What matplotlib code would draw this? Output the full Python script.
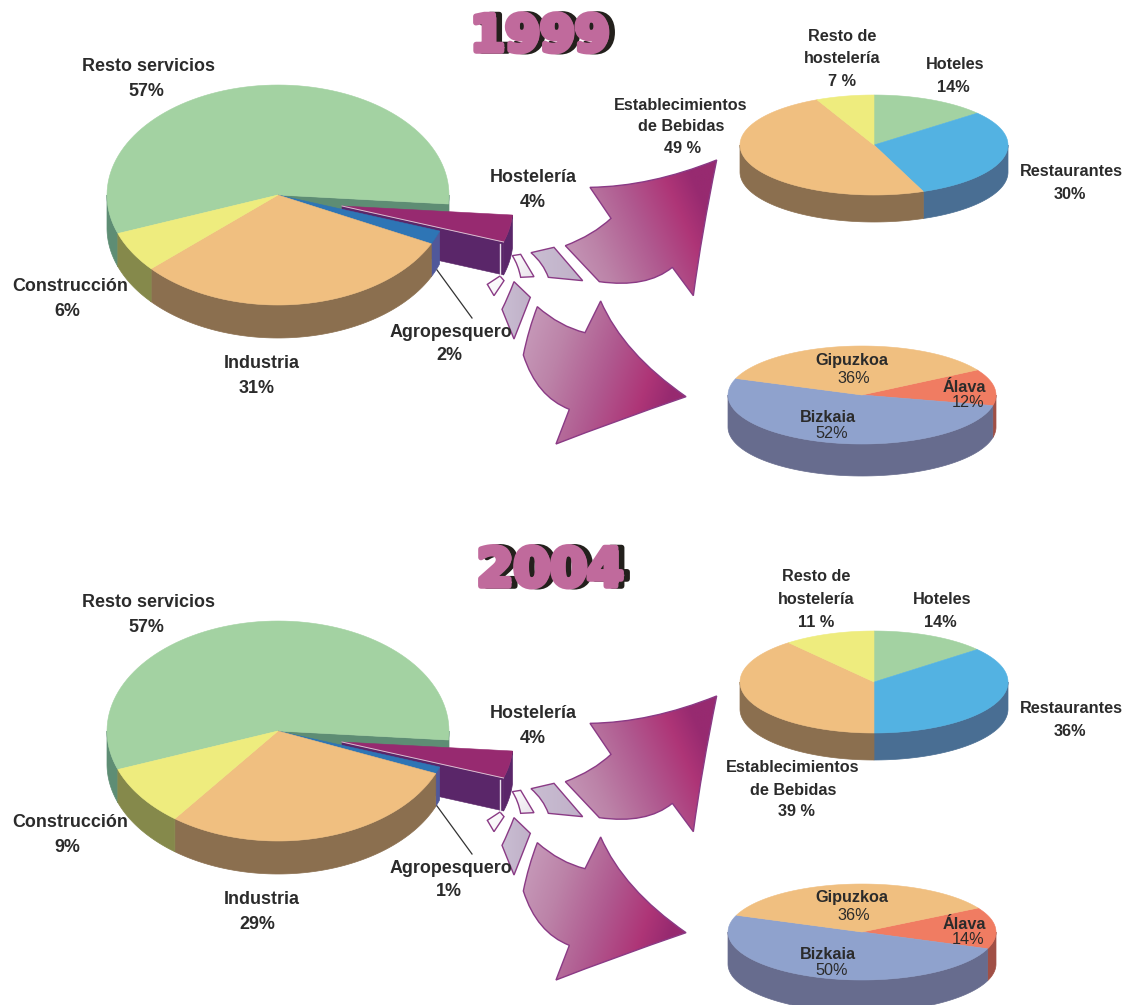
import numpy as np
import matplotlib
matplotlib.use("Agg")
import matplotlib.pyplot as plt
from matplotlib.patches import Polygon, PathPatch
from matplotlib.path import Path
import matplotlib.patheffects as pe

# ---- data (percent) ----
sector_names = ["Resto servicios", "Hostelería", "Agropesquero", "Industria", "Construcción"]
sector_1999 = [57, 4, 2, 31, 6]
sector_2004 = [57, 4, 1, 29, 9]
host_names = ["Hoteles", "Restaurantes", "Establecimientos de Bebidas", "Resto de hostelería"]
host_1999 = [14, 30, 49, 7]
host_2004 = [14, 36, 39, 11]
terr_names = ["Álava", "Bizkaia", "Gipuzkoa"]
terr_1999 = [12, 52, 36]
terr_2004 = [14, 50, 36]
years = ["1999", "2004"]

# ---- colours ----
GREEN, GREEN_W = "#A3D2A2", "#5E8D74"
YEL, YEL_W = "#EEEC7E", "#85894B"
ORG, ORG_W = "#F0BF80", "#8B6F4F"
BLUE, BLUE_W = "#2E75B5", "#50589A"
HOST, HOST_W = "#972A70", "#5A2669"
SKY, SKY_W = "#53B2E2", "#496E93"
PERI, PERI_W = "#8FA2CD", "#676C8E"
SAL, SAL_W = "#F07C62", "#A04F45"
INK = "#2B2B2B"
FONT = "Liberation Sans"

fig = plt.figure(figsize=(11.25, 10.05), dpi=100)
ax = fig.add_axes([0, 0, 1, 1])
ax.set_xlim(0, 1125)
ax.set_ylim(1005, 0)
ax.axis("off")


def angles(values, start):
    """Clockwise boundaries (deg) of the slices from their values."""
    v = np.asarray(values, float)
    return start - np.concatenate([[0], np.cumsum(v)]) * 360 / v.sum()


def arc(c, rx, ry, a0, a1, n=90):
    t = np.radians(np.linspace(a0, a1, n))
    return np.column_stack([c[0] + rx * np.cos(t), c[1] - ry * np.sin(t)])


def wall(c, rx, ry, d, a0, a1, color, z):
    """Outer wall for the part of [a1, a0] (clockwise) facing the viewer."""
    for k in (-1, 0, 1):
        lo = max(a1, -180 + 360 * k)
        hi = min(a0, 360 * k)
        if hi > lo:
            top_arc = arc(c, rx, ry, hi, lo)
            ax.add_patch(Polygon(np.vstack([top_arc, top_arc[::-1] + [0, d]]),
                                 fc=color, ec=color, lw=0.5, zorder=z))


def top(c, rx, ry, a0, a1, color, z):
    pts = np.vstack([[c], arc(c, rx, ry, a0, a1)])
    ax.add_patch(Polygon(pts, fc=color, ec=color, lw=0.4, zorder=z))


def face(c, rx, ry, d, a, color, z):
    p = arc(c, rx, ry, a, a, 1)[0]
    ax.add_patch(Polygon([c, p, p + [0, d], np.array(c) + [0, d]],
                         fc=color, ec=color, lw=0.4, zorder=z))


def simple_pie(c, rx, ry, d, values, start, cols, wcols):
    b = angles(values, start)
    for i, _ in enumerate(values):
        wall(c, rx, ry, d, b[i], b[i + 1], wcols[i], 2)
    for i, _ in enumerate(values):
        top(c, rx, ry, b[i], b[i + 1], cols[i], 3)


def main_pie(c, values, start):
    rx, ry, d = 171, 110, 33
    b = angles(values, start)
    cols = [GREEN, HOST, BLUE, ORG, YEL]
    wcols = [GREEN_W, HOST_W, BLUE_W, ORG_W, YEL_W]
    # slice behind the exploded one
    wall(c, rx, ry, d, b[0], b[1], wcols[0], 2)
    face(c, rx, ry, d * 0.6, b[1], wcols[0], 2)
    top(c, rx, ry, b[0], b[1], cols[0], 3)
    # exploded slice
    ce = (c[0] + 64, c[1] + 11)
    face(ce, rx, ry, d, b[2], wcols[1], 4)
    wall(ce, rx, ry, d, b[1], b[2], wcols[1], 4)
    top(ce, rx, ry, b[1], b[2], cols[1], 5)
    p = arc(ce, rx, ry, b[2], b[2], 1)[0]
    ax.plot([p[0] - 4, p[0] - 4], [p[1] + 2, p[1] + d], color="#E8E0EA", lw=1, zorder=5)
    ax.plot([ce[0], p[0]], [ce[1], p[1]], color="#D9BFD2", lw=0.7, zorder=5)
    # remaining slices in front
    for i in (2, 3, 4):
        wall(c, rx, ry, d, b[i], b[i + 1], wcols[i], 6)
    for i in (2, 3, 4):
        top(c, rx, ry, b[i], b[i + 1], cols[i], 7)
    # leader line
    ax.plot([c[0] + 159, c[0] + 194], [c[1] + 75, c[1] + 123], color="#333333", lw=0.9, zorder=8)


def shape(segments, closed_start):
    verts, codes = [closed_start], [Path.MOVETO]
    for s in segments:
        if len(s) == 1:
            verts.append(s[0]); codes.append(Path.LINETO)
        else:
            verts += [s[0], s[1]]; codes += [Path.CURVE3, Path.CURVE3]
    verts.append(closed_start); codes.append(Path.CLOSEPOLY)
    return Path(verts, codes)


STOPS_BIG = [(0.0, "#C9A0BE"), (0.25, "#BC83A8"), (0.5, "#B05A90"), (0.72, "#AE3577"), (0.85, "#972A70"), (1.0, "#972A70")]
STOPS_MID = [(0.0, "#C9BED2"), (1.0, "#C0B0C8")]


def gradient(path, stops, direction, lw=1.0):
    ext = path.get_extents()
    x0, x1, y0, y1 = ext.x0, ext.x1, ext.y0, ext.y1
    xs, ys = np.meshgrid(np.linspace(0, 1, 200), np.linspace(0, 1, 200))
    u = xs * direction[0] * (x1 - x0) + ys * direction[1] * (y1 - y0)
    u = (u - u.min()) / (u.max() - u.min())
    pos = [s[0] for s in stops]
    rgb = np.array([matplotlib.colors.to_rgb(s[1]) for s in stops])
    img = np.dstack([np.interp(u, pos, rgb[:, i]) for i in range(3)])
    im = ax.imshow(img, extent=(x0, x1, y1, y0), origin="upper", aspect="auto", zorder=1, interpolation="bilinear")
    patch = PathPatch(path, fc="none", ec="#8A3A85", lw=lw, zorder=1.5)
    ax.add_patch(patch)
    im.set_clip_path(patch)


def Z(x, y, dy):
    return (330 + x / 3, 150 + y / 3 + dy)


def arrows(dy):
    z = lambda x, y: Z(x, y, dy)
    upper = shape([[z(960, 110), z(1160, 30)], [z(1115, 250), z(1090, 437)], [z(1027, 352)],
                   [z(950, 415), z(808, 395)], [z(706, 287)], [z(790, 255), z(843, 205)]], z(780, 112))
    gradient(upper, STOPS_BIG, (1, -0.45))
    lower = shape([[z(690, 530), z(765, 548)], [z(812, 453)], [z(880, 610), z(1068, 740)],
                   [z(850, 815), z(678, 882)], [z(718, 778)], [z(620, 740), z(580, 615)],
                   [z(595, 540), z(622, 470)]], z(622, 470))
    gradient(lower, STOPS_BIG, (1, 0.35))
    um = shape([[z(672, 292)], [z(758, 392)], [z(655, 382)], [z(640, 340), z(603, 308)]], z(603, 308))
    gradient(um, STOPS_MID, (1, 0))
    lm = shape([[z(601, 442)], [z(552, 567)], [z(516, 478)], [z(535, 440), z(552, 395)]], z(552, 395))
    gradient(lm, STOPS_MID, (1, 0))
    us = shape([[z(572, 313)], [z(612, 380)], [z(572, 382)], [z(565, 345), z(547, 317)]], z(547, 317))
    gradient(us, [(0, "#FFFFFF"), (1, "#E8E2EA")], (1, 1))
    ls = shape([[z(510, 378)], [z(522, 392)], [z(492, 437)]], z(472, 403))
    gradient(ls, [(0, "#FFFFFF"), (1, "#F4F0F5")], (1, 1))


def label(x, y, s, size=12.9, weight="bold"):
    ax.text(x, y, s, ha="center", va="center", fontsize=size, fontweight=weight,
            family=FONT, color=INK, zorder=10)


def title(x, y, s, size):
    PINK, DARK = "#C06A9C", "#23201C"
    st = [pe.Stroke(linewidth=4, foreground=DARK, offset=(4.3, 0)),
          pe.Stroke(linewidth=4, foreground=PINK),
          pe.Normal()]
    ax.text(x, y, s, ha="center", va="baseline", fontsize=size, fontweight="bold",
            family="DejaVu Sans", color=PINK, path_effects=st, zorder=11)


HOST_COLS = [GREEN, SKY, ORG, YEL]
HOST_WALLS = [GREEN_W, SKY_W, ORG_W, YEL_W]
TERR_COLS = [SAL, PERI, ORG]
TERR_WALLS = [SAL_W, PERI_W, ORG_W]

# ---- 1999 ----
title(540, 51, years[0], 36)
main_pie((278, 195), sector_1999, 200.5)
arrows(0)
simple_pie((874, 145), 134, 50, 27, host_1999, 90, HOST_COLS, HOST_WALLS)
simple_pie((862, 395), 134, 49, 32, terr_1999, 30.7, TERR_COLS, TERR_WALLS)

# ---- 2004 ----
title(550, 586, years[1], 38)
main_pie((278, 731), sector_2004, 200.5)
arrows(536)
simple_pie((874, 682), 134, 51, 27, host_2004, 90, HOST_COLS, HOST_WALLS)
simple_pie((862, 932), 134, 48, 32, terr_2004, 30, TERR_COLS, TERR_WALLS)


def pct(v, sp=""):
    return f"{v}{sp}%"


def sector_labels(dy, vals):
    r, h, a, i, c = vals
    label(148, 66 + dy, sector_names[0]); label(146, 91 + dy, pct(r))
    label(70, 286 + dy, sector_names[4]); label(67, 311 + dy, pct(c))
    label(262, 363 + dy, sector_names[3]); label(257, 388 + dy, pct(i))
    label(451, 332 + dy, sector_names[2]); label(449, 355 + dy, pct(a))
    label(533, 177 + dy, sector_names[1]); label(533, 202 + dy, pct(h))


sector_labels(0, sector_1999)
sector_labels(536, sector_2004)

S = 11.7
# 1999 hostelería
label(681, 105, "Establecimientos", S); label(681, 126, "de Bebidas", S); label(683, 148, pct(host_1999[2], " "), S)
label(842, 36, "Resto de", S); label(842, 58, "hostelería", S); label(842, 81, pct(host_1999[3], " "), S)
label(955, 64, host_names[0], S); label(953, 87, pct(host_1999[0]), S)
label(1071, 171, host_names[1], S); label(1070, 194, pct(host_1999[1]), S)
# 2004 hostelería
label(793, 767, "Establecimientos", S); label(793, 790, "de Bebidas", S); label(796, 811, pct(host_2004[2], " "), S)
label(816, 576, "Resto de", S); label(816, 599, "hostelería", S); label(816, 622, pct(host_2004[3], " "), S)
label(942, 599, host_names[0], S); label(940, 622, pct(host_2004[0]), S)
label(1071, 708, host_names[1], S); label(1070, 731, pct(host_2004[1]), S)

# territories
for dy, vals in ((0, terr_1999), (537, terr_2004)):
    label(852, 360 + dy, terr_names[2], S); label(854, 378 + dy, pct(vals[2]), S, "normal")
    label(964, 387 + dy, terr_names[0], S); label(968, 402 + dy, pct(vals[0]), S, "normal")
    label(828, 417 + dy, terr_names[1], S); label(832, 433 + dy, pct(vals[1]), S, "normal")

ax.set_xlim(0, 1125)
ax.set_ylim(1005, 0)
fig.savefig("out.png", dpi=100, facecolor="white")
